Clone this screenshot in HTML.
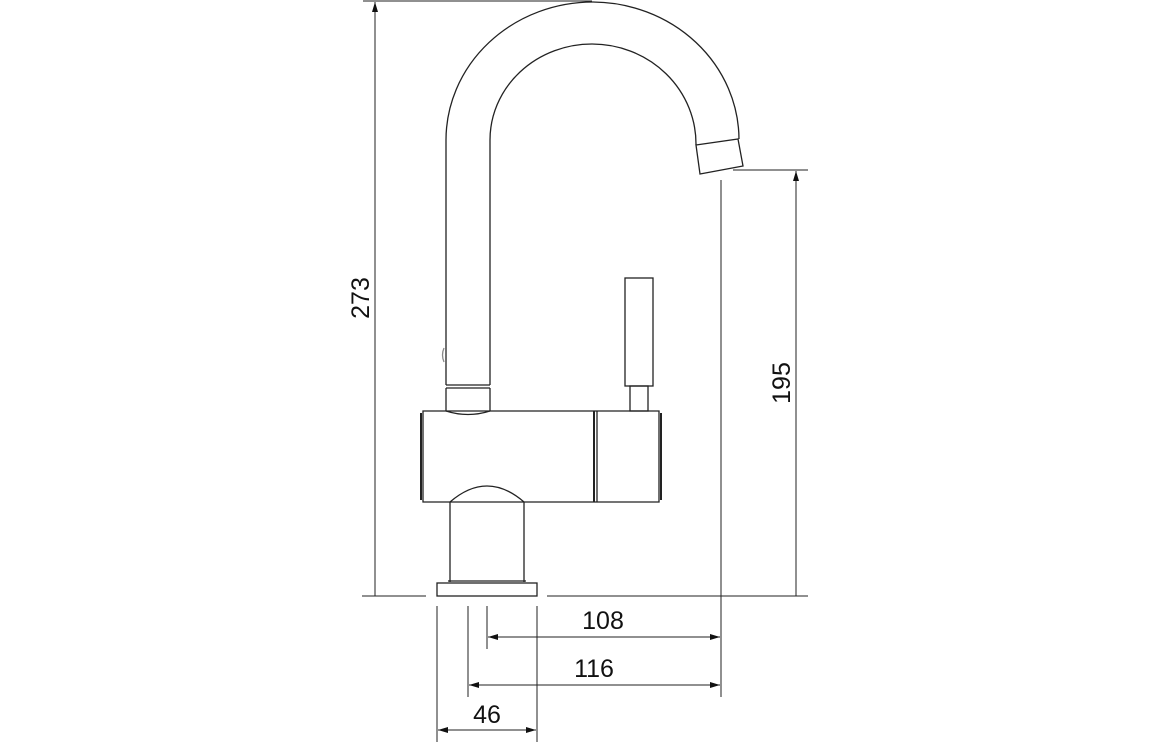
<!DOCTYPE html>
<html><head><meta charset="utf-8"><style>
html,body{margin:0;padding:0;background:#fff;}
svg{display:block;}
text{font-family:"Liberation Sans",Arial,sans-serif;font-size:25px;fill:#111;}
</style></head><body>
<svg width="1156" height="742" viewBox="0 0 1156 742" xmlns="http://www.w3.org/2000/svg">
<defs>
<marker id="a" viewBox="0 0 10 6" refX="10" refY="3" markerWidth="10" markerHeight="6" orient="auto-start-reverse" markerUnits="userSpaceOnUse"><path d="M0,0 L10,3 L0,6 z" fill="#111"/></marker>
</defs>
<g fill="none" stroke="#222" stroke-width="1.3">
<!-- spout -->
<path d="M446,385 V140 A147,138 0 0 1 593,2 A147,138 0 0 1 739,139"/>
<path d="M490,385 V140 A102,96 0 0 1 592,44 A104,100 0 0 1 696,145"/>
<path d="M696,145 L738,139 L743,166 L700,174 Z"/>
<!-- collar -->
<line x1="446" y1="385" x2="490" y2="385"/>
<line x1="446" y1="388" x2="490" y2="388"/>
<path d="M446,411 Q468,418 490,411"/>
<line x1="446" y1="388" x2="446" y2="411"/>
<line x1="490" y1="388" x2="490" y2="411"/>
<path d="M444,348 Q441,355 444,362" stroke="#888"/>
<!-- handle -->
<rect x="625" y="278" width="28" height="108"/>
<rect x="630" y="386" width="18" height="25"/>
<!-- body -->
<path d="M423,411 H659 V502 H423 Z"/>
<line x1="421" y1="413" x2="421" y2="500" stroke-width="2"/>
<line x1="661" y1="413" x2="661" y2="500" stroke-width="2"/>
<line x1="594" y1="411" x2="594" y2="502" stroke-width="2"/>
<line x1="597" y1="411" x2="597" y2="502"/>
<!-- neck -->
<path d="M450,502 Q487,470 524,502"/>
<line x1="450" y1="502" x2="450" y2="582"/>
<line x1="524" y1="502" x2="524" y2="582"/>
<rect x="437" y="583" width="100" height="13"/>
<line x1="448" y1="581" x2="526" y2="581"/>
</g>
<g fill="none" stroke="#222" stroke-width="1">
<line x1="362" y1="596" x2="426" y2="596"/>
<line x1="547" y1="596" x2="808" y2="596"/>
<line x1="363" y1="1" x2="592" y2="1"/>
<line x1="375" y1="596" x2="375" y2="2" marker-end="url(#a)"/>
<line x1="733" y1="170" x2="808" y2="170"/>
<line x1="796" y1="596" x2="796" y2="171" marker-end="url(#a)"/>
<line x1="721" y1="180" x2="721" y2="697"/>
<line x1="437" y1="606" x2="437" y2="742"/>
<line x1="468" y1="606" x2="468" y2="697"/>
<line x1="487" y1="606" x2="487" y2="649"/>
<line x1="537" y1="606" x2="537" y2="742"/>
<line x1="488" y1="637" x2="720" y2="637" marker-start="url(#a)" marker-end="url(#a)"/>
<line x1="469" y1="685" x2="720" y2="685" marker-start="url(#a)" marker-end="url(#a)"/>
<line x1="438" y1="730" x2="536" y2="730" marker-start="url(#a)" marker-end="url(#a)"/>
</g>
<text x="603" y="629" text-anchor="middle">108</text>
<text x="594" y="677" text-anchor="middle">116</text>
<text x="487" y="723" text-anchor="middle">46</text>
<text transform="translate(369,298) rotate(-90)" text-anchor="middle">273</text>
<text transform="translate(790,383) rotate(-90)" text-anchor="middle">195</text>
</svg>
</body></html>
